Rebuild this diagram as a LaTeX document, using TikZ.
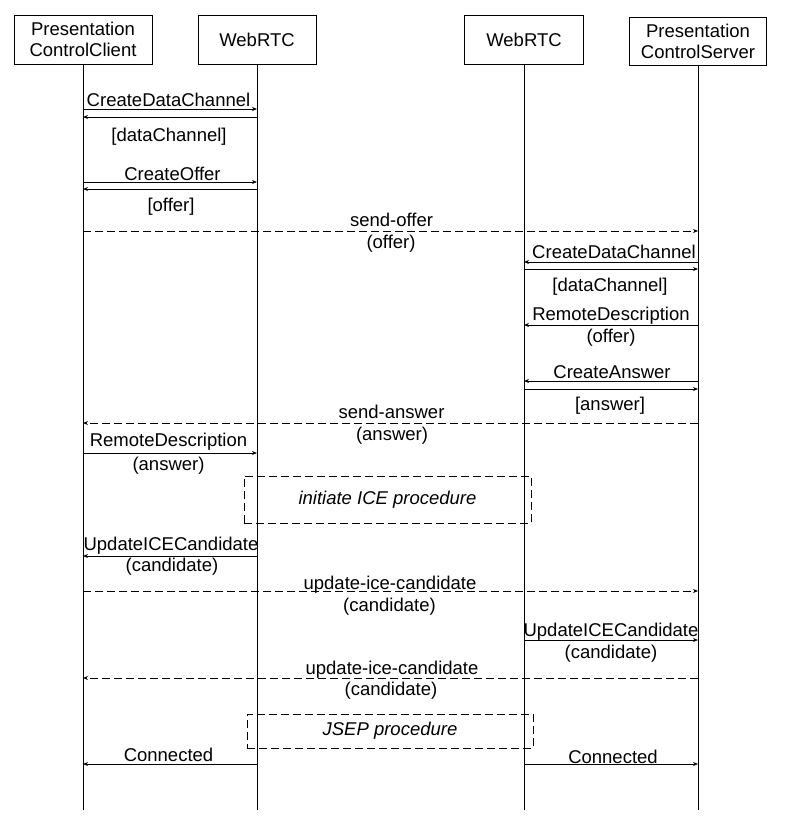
\documentclass[tikz,border=0pt]{standalone}
\usepackage{fontspec}
\setmainfont{Liberation Sans}
\usetikzlibrary{arrows.meta}
\begin{document}
\begin{tikzpicture}[x=1pt,y=-1pt,
  every node/.style={font=\fontsize{18.5}{21}\selectfont, inner sep=0pt},
  actor/.style={draw, line width=0.9pt, align=center, minimum height=49pt},
  life/.style={line width=0.9pt},
  msg/.style={line width=0.9pt, -{Stealth[length=5pt,width=4pt]}},
  amsg/.style={msg, dash pattern=on 8pt off 4pt},
  lbl/.style={anchor=base},
  proc/.style={draw, line width=0.8pt, dash pattern=on 8pt off 4pt, font=\fontsize{18.5}{21}\selectfont\itshape}
]
\useasboundingbox (0,0) rectangle (785,830);

% participants
\node[actor, minimum width=138pt] (pcc) at (83,39.5) {Presentation\\ControlClient};
\node[actor, minimum width=118pt] (w1) at (257,39.5) {WebRTC};
\node[actor, minimum width=119pt] (w2) at (524,39.5) {WebRTC};
\node[actor, minimum width=137pt, minimum height=48pt] (pcs) at (698,41) {Presentation\\ControlServer};

% lifelines
\coordinate (bot) at (0,810);
\draw[life] (pcc.south) -- (pcc.south |- bot);
\draw[life] (w1.south) -- (w1.south |- bot);
\draw[life] (w2.south) -- (w2.south |- bot);
\draw[life] (pcs.south) -- (pcs.south |- bot);

% message levels
\coordinate (m1) at (0,109);
\coordinate (m2) at (0,117);
\coordinate (m3) at (0,182);
\coordinate (m4) at (0,189);
\coordinate (m5) at (0,231);
\coordinate (m6) at (0,262);
\coordinate (m7) at (0,269);
\coordinate (m8) at (0,325);
\coordinate (m9) at (0,381);
\coordinate (m10) at (0,389);
\coordinate (m11) at (0,423);
\coordinate (m12) at (0,453);
\coordinate (m14) at (0,556);
\coordinate (m15) at (0,591);
\coordinate (m16) at (0,640);
\coordinate (m17) at (0,678);
\coordinate (m19) at (0,764);

\draw[msg] (pcc |- m1) -- (w1 |- m1);
\node[lbl] (t1) at (168.5,106.5) {CreateDataChannel};
\draw[msg] (w1 |- m2) -- (pcc |- m2);
\node[lbl] (t2) at (169,141) {[dataChannel]};

\draw[msg] (pcc |- m3) -- (w1 |- m3);
\node[lbl] (t3) at (172.5,180) {CreateOffer};
\draw[msg] (w1 |- m4) -- (pcc |- m4);
\node[lbl] (t4) at (171,211.5) {[offer]};

\draw[amsg] (pcc |- m5) -- (pcs |- m5);
\node[lbl] (t5a) at (391.5,226) {send-offer};
\node[lbl] (t5b) at (391,248) {(offer)};

\draw[msg] (pcs |- m6) -- (w2 |- m6);
\node[lbl] (t6) at (614,258.5) {CreateDataChannel};
\draw[msg] (w2 |- m7) -- (pcs |- m7);
\node[lbl] (t7) at (610,291) {[dataChannel]};

\draw[msg] (pcs |- m8) -- (w2 |- m8);
\node[lbl] (t8a) at (611,320) {RemoteDescription};
\node[lbl] (t8b) at (611,342.5) {(offer)};

\draw[msg] (pcs |- m9) -- (w2 |- m9);
\node[lbl] (t9) at (612,378) {CreateAnswer};
\draw[msg] (w2 |- m10) -- (pcs |- m10);
\node[lbl] (t10) at (610,410) {[answer]};

\draw[amsg] (pcs |- m11) -- (pcc |- m11);
\node[lbl] (t11a) at (391.5,418) {send-answer};
\node[lbl] (t11b) at (392,440) {(answer)};

\draw[msg] (pcc |- m12) -- (w1 |- m12);
\node[lbl] (t12a) at (168.5,446.5) {RemoteDescription};
\node[lbl] (t12b) at (168.5,470) {(answer)};

\node[proc, minimum width=287pt, minimum height=47pt] (ice) at (387.5,499.5) {initiate ICE procedure};

\draw[msg] (w1 |- m14) -- (pcc |- m14);
\node[lbl] (t14a) at (171,550) {UpdateICECandidate};
\node[lbl] (t14b) at (172,571.5) {(candidate)};

\draw[amsg] (pcc |- m15) -- (pcs |- m15);
\node[lbl] (t15a) at (390,589.5) {update-ice-candidate};
\node[lbl] (t15b) at (389.5,611.5) {(candidate)};

\draw[msg] (w2 |- m16) -- (pcs |- m16);
\node[lbl] (t16a) at (611,636.5) {UpdateICECandidate};
\node[lbl] (t16b) at (611,658) {(candidate)};

\draw[amsg] (pcs |- m17) -- (pcc |- m17);
\node[lbl] (t17a) at (392,674) {update-ice-candidate};
\node[lbl] (t17b) at (391,695) {(candidate)};

\node[proc, minimum width=286pt, minimum height=34pt] (jsep) at (390,731) {JSEP procedure};

\draw[msg] (w1 |- m19) -- (pcc |- m19);
\node[lbl] (t19a) at (168.5,761.5) {Connected};
\draw[msg] (w2 |- m19) -- (pcs |- m19);
\node[lbl] (t19b) at (613,763) {Connected};
\end{tikzpicture}
\end{document}
